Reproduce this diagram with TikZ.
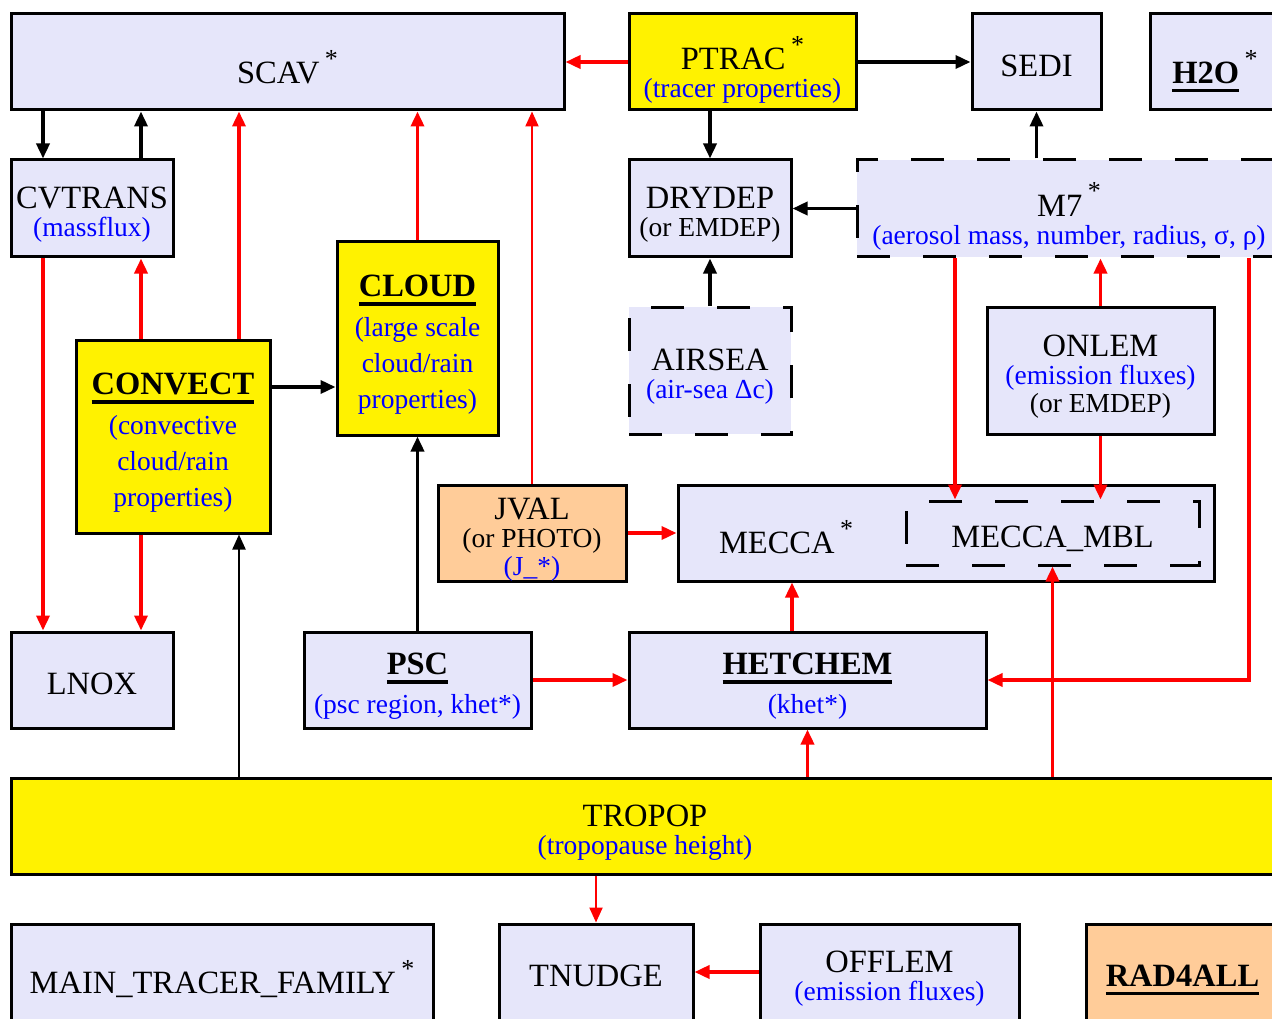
\documentclass[tikz,border=0pt]{standalone}
\usepackage{fontspec}
\setmainfont{Liberation Serif}
\usetikzlibrary{arrows.meta}
\definecolor{lav}{RGB}{230,230,250}
\definecolor{peach}{RGB}{255,204,153}
\newlength\ulw
\newcommand\ulbf[1]{\settowidth\ulw{\textbf{#1}}\textbf{#1}\llap{\rule[-9pt]{\ulw}{3.5pt}}}
\newcommand\astr{\,\raisebox{0.5em}[43pt][0pt]{\fontsize{26}{28}\selectfont *}}
\newcommand\tstr{\rule{0pt}{28.5pt}}
\newcommand\smtxt[1]{{\fontsize{27.5}{28}\selectfont #1}}
\newcommand\bluetxt[1]{{\fontsize{27.5}{28}\selectfont\color{blue}#1}}
\tikzset{
  box/.style={draw, line width=3pt, fill=lav, inner sep=0pt, align=center,
    text depth=-8pt, font=\fontsize{32.5}{28}\selectfont},
  ylw/.style={box, fill=yellow},
  org/.style={box, fill=peach},
  dbox/.style={box, dash pattern=on 33pt off 33pt},
  wh/.style 2 args={minimum width=#1pt, minimum height=#2pt},
  blk/.style={line width=3.5pt, -{Triangle[length=15pt,width=13pt]}},
  blkthin/.style={blk, line width=2.2pt},
  rd/.style={blk, red},
  rdthin/.style={blkthin, red},
}
\begin{document}
\begin{tikzpicture}[x=1pt,y=-1pt]
\useasboundingbox (0,0) rectangle (1272,1019);
\clip (0,0) rectangle (1272,1019);

% top row
\node[box, wh={553}{96}] (scav) at (287.5,62) {SCAV\astr};
\node[ylw, wh={227}{96}] (ptrac) at (742.5,62) {PTRAC\astr\\\bluetxt{(tracer properties)}};
\node[box, wh={129}{96}] (sedi) at (1036.5,62) {\tstr SEDI};
\node[box, wh={130}{96}] (h2o) at (1215,62) {\ulbf{H2O}\astr};

% second row
\node[box, wh={162}{97}] (cvtrans) at (92,208.5) {\tstr CVTRANS\\\bluetxt{(massflux)}};
\node[box, wh={162}{97}] (drydep) at (710,208.5) {\tstr DRYDEP\\\smtxt{(or EMDEP)}};
\node[dbox, wh={424}{97}] (m7) at (1069,208.5) {M7\astr\\\bluetxt{(aerosol mass, number, radius, σ, ρ)}};

% middle
\node[dbox, wh={162}{127}] (airsea) at (710,370.5) {\tstr AIRSEA\\\bluetxt{(air-sea Δc)}};
\node[box, wh={227}{127}] (onlem) at (1100.5,370.5) {\tstr ONLEM\\\bluetxt{(emission fluxes)}\\\smtxt{(or EMDEP)}};
\node[ylw, wh={161}{193}] (cloud) at (417.5,338.5)
  {\tstr\ulbf{CLOUD}\\[11pt]\bluetxt{(large scale}\\[8pt]\bluetxt{cloud/rain}\\[8pt]\bluetxt{properties)}};
\node[ylw, wh={194}{193}] (convect) at (173,436.5)
  {\tstr\ulbf{CONVECT}\\[11pt]\bluetxt{(convective}\\[8pt]\bluetxt{cloud/rain}\\[8pt]\bluetxt{properties)}};
\node[org, wh={188}{96}] (jval) at (532,533) {\tstr JVAL\\\smtxt{(or PHOTO)}\\\bluetxt{(J\_*)}};
\node[box, wh={536}{96}] (mecca) at (946,533) {};
\node[font=\fontsize{32.5}{28}\selectfont] (meccatxt) at (786,532) {MECCA\astr};
\node[dbox, wh={293}{64}] (mbl) at (1052.5,533) {\tstr MECCA\_MBL};

% lower row
\node[box, wh={162}{96}] (lnox) at (92,680) {\tstr LNOX};
\node[box, wh={227}{96}] (psc) at (417.5,680) {\tstr\ulbf{PSC}\\[10pt]\bluetxt{(psc region, khet*)}};
\node[box, wh={357}{96}] (hetchem) at (807.5,680) {\tstr\ulbf{HETCHEM}\\[10pt]\bluetxt{(khet*)}};

% tropopause
\node[ylw, wh={1268}{96}] (tropop) at (645,826) {\tstr TROPOP\\\bluetxt{(tropopause height)}};

% bottom row
\node[box, wh={422}{96}] (mtf) at (222,972) {MAIN\_TRACER\_FAMILY\astr};
\node[box, wh={194}{96}] (tnudge) at (596,972) {\tstr TNUDGE};
\node[box, wh={259}{96}] (offlem) at (889.5,972) {\tstr OFFLEM\\\bluetxt{(emission fluxes)}};
\node[org, wh={193}{96}] (rad4all) at (1182.5,972) {\tstr\ulbf{RAD4ALL}};

% black connectors
\draw[blk] (scav.south -| 43,0) -- (cvtrans.north -| 43,0);
\draw[blk] (cvtrans.north -| 141,0) -- (scav.south -| 141,0);
\draw[blk] (ptrac.south -| drydep.north) -- (drydep.north);
\draw[blk] (ptrac.east) -- (sedi.west);
\draw[blk] (m7.north -| sedi.south) -- (sedi.south);
\draw[blk] (m7.west) -- (drydep.east);
\draw[blk] (airsea.north) -- (drydep.south);
\draw[blk] (convect.east |- 0,387) -- (cloud.west |- 0,387);
\draw[blk] (psc.north) -- (cloud.south);
\draw[blkthin] (tropop.north -| 239,0) -- (convect.south -| 239,0);

% red connectors
\draw[rd] (ptrac.west) -- (scav.east);
\draw[rd] (convect.north -| 239,0) -- (scav.south -| 239,0);
\draw[rd] (convect.north -| 141,0) -- (cvtrans.south -| 141,0);
\draw[rd] (cloud.north) -- (scav.south -| cloud.north);
\draw[rdthin] (jval.north) -- (scav.south -| jval.north);
\draw[rd] (cvtrans.south -| 43,0) -- (lnox.north -| 43,0);
\draw[rd] (convect.south -| 141,0) -- (lnox.north -| 141,0);
\draw[rd] (jval.east) -- (mecca.west);
\draw[rd] (m7.south -| 955,0) -- (mbl.north -| 955,0);
\draw[rd] (onlem.north) -- (m7.south -| onlem.north);
\draw[rd] (onlem.south) -- (mbl.north -| onlem.south);
\draw[rd] (m7.south -| 1249,0) |- (hetchem.east);
\draw[rd] (psc.east) -- (hetchem.west);
\draw[rd] (hetchem.north -| 792,0) -- (mecca.south -| 792,0);
\draw[rd] (tropop.north -| hetchem.south) -- (hetchem.south);
\draw[rd] (tropop.north -| mbl.south) -- (mbl.south);
\draw[rdthin] (tropop.south -| tnudge.north) -- (tnudge.north);
\draw[rd] (offlem.west) -- (tnudge.east);
\end{tikzpicture}
\end{document}
